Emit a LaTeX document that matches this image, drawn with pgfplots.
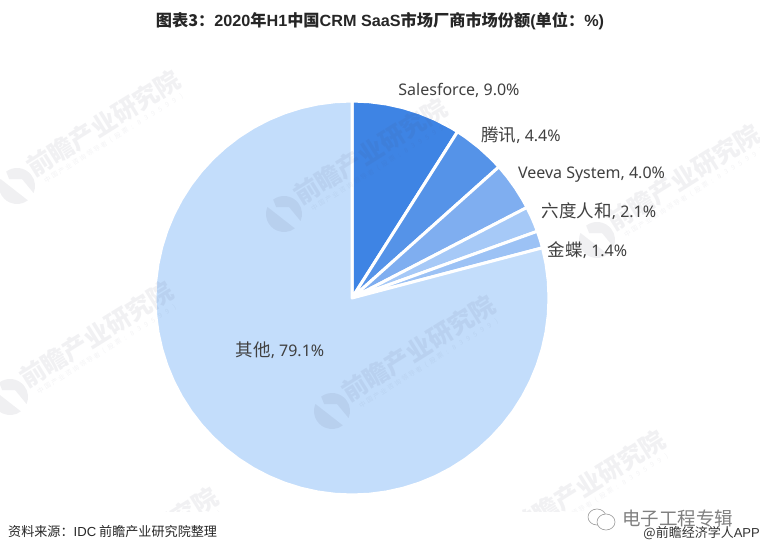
\documentclass[border=0pt]{standalone}
\usepackage{pgfplots}
\pgfplotsset{compat=1.18}
\usepackage{fontspec}
\setmainfont{Noto Sans}
\newfontfamily\cjk{Noto Sans CJK SC}
\newfontfamily\arial{Liberation Sans}
\definecolor{cA}{HTML}{3E84E4}
\definecolor{cB}{HTML}{5593E8}
\definecolor{cC}{HTML}{7FAEF0}
\definecolor{cD}{HTML}{A6C9F7}
\definecolor{cE}{HTML}{9CC2F5}
\definecolor{cF}{HTML}{C3DDFB}
\definecolor{txt}{HTML}{404040}
\definecolor{wmc}{HTML}{404060}
\newcommand{\wc}[1]{\makebox[8.3pt]{#1}}
% watermark: logo centre given in reference pixels
\newcommand{\wm}[2]{%
  \begin{scope}[shift={(#1pt,553pt-#2pt)},rotate=32,transform shape]
    \fill[wmc,opacity=.08] (125:18pt) arc (125:275:18pt) -- cycle;
    \fill[wmc,opacity=.08] (95:18pt) arc (95:-55:18pt) -- (8pt,3pt) -- (-3pt,10pt) -- cycle;
    \node[anchor=west,inner sep=0pt,text=wmc,opacity=.07,font=\cjk\bfseries\fontsize{25}{25}\selectfont] at (19pt,7pt) {前瞻产业研究院};
    \node[anchor=west,inner sep=0pt,text=wmc,opacity=.06,font=\cjk\fontsize{6.5}{7}\selectfont] at (25pt,-11pt) {\wc{中}\wc{国}\wc{产}\wc{业}\wc{咨}\wc{询}\wc{领}\wc{导}\wc{者}\wc{(}\wc{股}\wc{票}\wc{:}\wc{8}\wc{3}\wc{9}\wc{5}\wc{9}\wc{9}\wc{)}};
  \end{scope}}
\begin{document}
\begin{tikzpicture}
\path[use as bounding box,fill=white] (0,0) rectangle (760pt,553pt);
\begin{axis}[at={(0,0)},anchor=south west,scale only axis,width=760pt,height=553pt,
  xmin=-352,xmax=408,ymin=-255,ymax=298,hide axis,clip=false]
% Salesforce 9.0
\addplot[fill=cA,draw=white,line width=3pt,line join=round,data cs=polar] coordinates {
 (0,0) (90,197) (85,197) (80,197) (75,197) (70,197) (65,197) (60,197) (57.6,197)} -- cycle;
% Tencent 4.4
\addplot[fill=cB,draw=white,line width=3pt,line join=round,data cs=polar] coordinates {
 (0,0) (57.6,197) (55,197) (50,197) (45,197) (41.76,197)} -- cycle;
% Veeva 4.0
\addplot[fill=cC,draw=white,line width=3pt,line join=round,data cs=polar] coordinates {
 (0,0) (41.76,197) (38,197) (34,197) (30,197) (27.36,197)} -- cycle;
% Liudu 2.1
\addplot[fill=cD,draw=white,line width=3pt,line join=round,data cs=polar] coordinates {
 (0,0) (27.36,197) (24,197) (22,197) (19.8,197)} -- cycle;
% Kingdee 1.4
\addplot[fill=cE,draw=white,line width=3pt,line join=round,data cs=polar] coordinates {
 (0,0) (19.8,197) (17,197) (14.76,197)} -- cycle;
% Others 79.1
\addplot[fill=cF,draw=white,line width=3pt,line join=round,data cs=polar] coordinates {
 (0,0) (14.76,197) (10,197) (5,197) (0,197) (-5,197) (-10,197) (-15,197) (-20,197) (-25,197) (-30,197)
 (-35,197) (-40,197) (-45,197) (-50,197) (-55,197) (-60,197) (-65,197) (-70,197) (-75,197) (-80,197)
 (-85,197) (-90,197) (-95,197) (-100,197) (-105,197) (-110,197) (-115,197) (-120,197) (-125,197) (-130,197)
 (-135,197) (-140,197) (-145,197) (-150,197) (-155,197) (-160,197) (-165,197) (-170,197) (-175,197) (-180,197)
 (-185,197) (-190,197) (-195,197) (-200,197) (-205,197) (-210,197) (-215,197) (-220,197) (-225,197) (-230,197)
 (-235,197) (-240,197) (-245,197) (-250,197) (-255,197) (-260,197) (-265,197) (-270,197)} -- cycle;
\end{axis}
% watermarks, cut at the footer and the picture's edges
\begin{scope}
\clip (0,41pt) rectangle (760pt,553pt);
\wm{17}{186}\wm{284}{214}\wm{597}{240}
\wm{10}{397}\wm{332}{411}
\wm{55}{603}\wm{502}{546}
\end{scope}
\begin{axis}[at={(0,0)},anchor=south west,scale only axis,width=760pt,height=553pt,
  xmin=-352,xmax=408,ymin=-255,ymax=298,hide axis,clip=false]
\pgfkeys{/tikz/lab/.style={inner sep=0pt,text=txt,font=\fontsize{16}{16}\selectfont}}
\newcommand{\lc}{\cjk\fontsize{17.5}{17.5}\selectfont}
\node[lab] at (axis cs:107,208) {Salesforce, 9.0\%};
\node[lab] at (axis cs:169,163) {{\lc 腾讯}, 4.4\%};
\node[lab] at (axis cs:239.5,123) {Veeva System, 4.0\%};
\node[lab] at (axis cs:247,87) {{\lc 六度人和}, 2.1\%};
\node[lab] at (axis cs:235.5,48) {{\lc 金蝶}, 1.4\%};
\node[lab] at (axis cs:-72,-52) {{\lc 其他}, 79.1\%};
% title
\node[inner sep=0pt,text=black!85,font=\cjk\bfseries\fontsize{16.2}{16.2}\selectfont] at (axis cs:28,277) {图表3：{\arial\bfseries 2020}年{\arial\bfseries H1}中国{\arial\bfseries CRM SaaS}市场厂商市场份额{\arial\bfseries (}单位：{\arial\bfseries \%)}};
% source
\node[anchor=west,inner sep=0pt,text=black!85,font=\cjk\fontsize{13.1}{13}\selectfont] at (axis cs:-344,-234) {资料来源：{\arial IDC} 前瞻产业研究院整理};
% wechat mark
\draw[black!40,line width=.6pt] (axis cs:245,-219) ellipse [x radius=9,y radius=8];
\draw[black!40,line width=.6pt,fill=white] (axis cs:254,-224) ellipse [x radius=9,y radius=8];
\node[anchor=west,inner sep=0pt,text=black!50,font=\cjk\fontsize{18.5}{18.5}\selectfont] at (axis cs:270,-220) {电子工程专辑};
\node[anchor=east,inner sep=0pt,text=black!80,font=\cjk\fontsize{13}{13}\selectfont] at (axis cs:408,-235) {@前瞻经济学人{\arial APP}};
\end{axis}
\end{tikzpicture}
\end{document}
